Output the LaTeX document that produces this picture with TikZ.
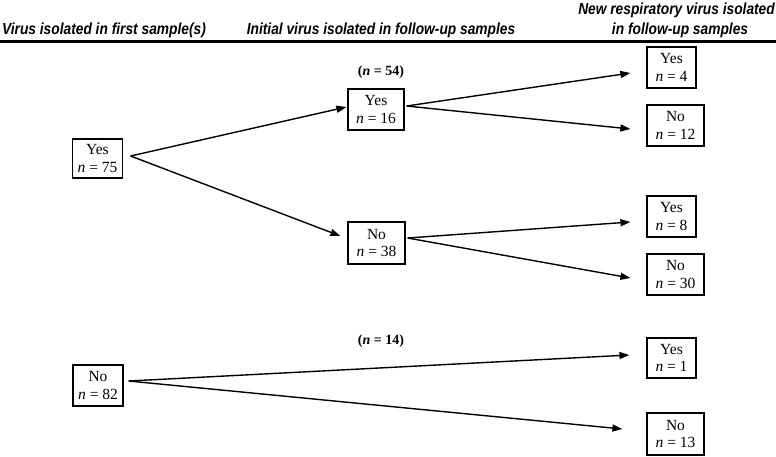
\documentclass[tikz,border=0pt]{standalone}
\usepackage{fontspec}
\setmainfont{Liberation Serif}
\newfontfamily\hdrfont[FakeStretch=0.86]{Liberation Sans}
\usetikzlibrary{arrows.meta}
\tikzset{
  bx/.style={draw, line width=1.2pt, minimum height=40pt, inner sep=0pt, align=center,
    font=\fontsize{15.5}{17.5}\selectfont},
  w/.style={minimum width=#1},
  hdr/.style={inner sep=0pt, font=\hdrfont\fontsize{16}{18}\selectfont\bfseries\itshape},
  lbl/.style={inner sep=0pt, font=\fontsize{14}{16}\selectfont\bfseries},
  arr/.style={line width=1.4pt, -{Triangle[length=10pt,width=7pt]}}
}
\begin{document}
\begin{tikzpicture}[x=1pt,y=-1pt]
\useasboundingbox (0,0) rectangle (776,456);
% headers
\node[hdr, anchor=base west] (h1) at (2,34) {Virus isolated in first sample(s)};
\node[hdr, anchor=base] (h2) at (381,34) {Initial virus isolated in follow-up samples};
\node[hdr, anchor=base east] (h3a) at (775,14) {New respiratory virus isolated};
\node[hdr, anchor=base] (h3b) at (680,34) {in follow-up samples};
\coordinate (r1) at (0,41.5);
\coordinate (r2) at (776,41.5);
\draw[line width=3pt] (r1) -- (r2);
% labels
\node[lbl] (l54) at (381,72) {(\textit{n} = 54)};
\node[lbl] (l14) at (381,341) {(\textit{n} = 14)};
% boxes
\node[bx, w=50pt, minimum height=39pt] (y75) at (97.5,158.5) {Yes\\\textit{n} = 75};
\node[bx, w=56pt, minimum height=41pt] (y16) at (376,109.5) {Yes\\\textit{n} = 16};
\node[bx, w=57pt, minimum height=42pt] (n38) at (376.5,243) {No\\\textit{n} = 38};
\node[bx, w=49pt, minimum height=41pt] (y4) at (671.5,67.5) {Yes\\\textit{n} = 4};
\node[bx, w=57pt, minimum height=41pt] (n12) at (675.5,125.5) {No\\\textit{n} = 12};
\node[bx, w=49pt, minimum height=41pt] (y8) at (671.5,216.5) {Yes\\\textit{n} = 8};
\node[bx, w=57pt, minimum height=41pt] (n30) at (675.5,274.5) {No\\\textit{n} = 30};
\node[bx, w=50pt, minimum height=41pt] (n82) at (98,385.5) {No\\\textit{n} = 82};
\node[bx, w=49pt, minimum height=40pt] (y1) at (671.5,358) {Yes\\\textit{n} = 1};
\node[bx, w=57pt, minimum height=42pt] (n13) at (675.5,434) {No\\\textit{n} = 13};
% arrows
\draw[arr] ([xshift=7.5pt,yshift=2.5pt]y75.east) -- ([xshift=-1pt,yshift=2.5pt]y16.west);
\draw[arr] ([xshift=7.5pt,yshift=2.5pt]y75.east) -- ([xshift=-7pt,yshift=7pt]n38.west);
\draw[arr] ([xshift=2pt,yshift=3.5pt]y16.east) -- ([xshift=-16pt,yshift=-5.5pt]y4.west);
\draw[arr] ([xshift=2pt,yshift=3.5pt]y16.east) -- ([xshift=-16pt,yshift=-3.5pt]n12.west);
\draw[arr] ([xshift=2pt,yshift=5pt]n38.east) -- ([xshift=-16pt,yshift=-5.5pt]y8.west);
\draw[arr] ([xshift=2pt,yshift=5pt]n38.east) -- ([xshift=-16pt,yshift=-3.5pt]n30.west);
\draw[arr] ([xshift=5pt,yshift=4.5pt]n82.east) -- ([xshift=-17pt,yshift=3pt]y1.west);
\draw[arr] ([xshift=5pt,yshift=4.5pt]n82.east) -- ([xshift=-24pt,yshift=5pt]n13.west);
\end{tikzpicture}
\end{document}
